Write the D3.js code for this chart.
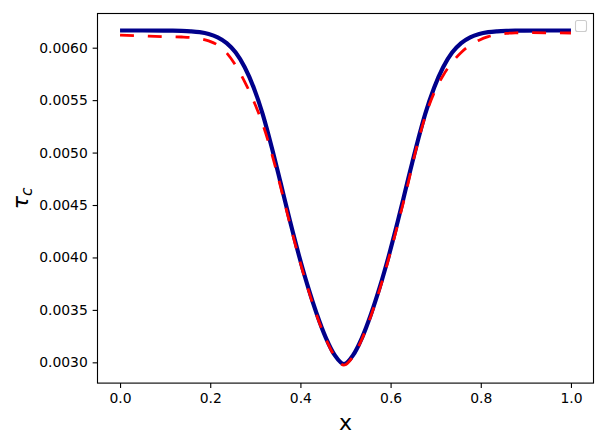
<!DOCTYPE html>
<html>
<head>
<meta charset="utf-8">
<script src="https://cdn.jsdelivr.net/npm/d3@7"></script>
<style>
  html, body { margin: 0; padding: 0; background: #fff; }
  svg { display: block; }
  text { font-family: "DejaVu Sans", sans-serif; fill: #000; }
</style>
</head>
<body>
<div id="chart"></div>
<script>
// ---- data ----
const blueX = [0.0, 0.05, 0.0965, 0.1165, 0.1365, 0.1565, 0.1765, 0.1965, 0.2165, 0.2365, 0.2565, 0.2765, 0.2965, 0.3165, 0.3365, 0.3565, 0.3765, 0.3965, 0.4165, 0.4365, 0.4565, 0.4765, 0.4965, 0.5165, 0.5365, 0.5565, 0.5765, 0.5965, 0.6165, 0.6365, 0.6565, 0.6765, 0.6965, 0.7165, 0.7365, 0.7565, 0.7765, 0.7965, 0.8165, 0.8365, 0.8565, 0.8765, 0.8965, 0.95, 1.0];
const blueY = [0.006164, 0.006164, 0.006163, 0.006162, 0.006160, 0.006156, 0.006148, 0.006131, 0.006099, 0.006044, 0.005954, 0.005814, 0.005619, 0.005364, 0.005049, 0.004704, 0.004354, 0.004024, 0.003724, 0.003459, 0.003234, 0.003066, 0.002984, 0.003066, 0.003234, 0.003459, 0.003724, 0.004024, 0.004354, 0.004704, 0.005049, 0.005364, 0.005619, 0.005814, 0.005954, 0.006044, 0.006099, 0.006131, 0.006148, 0.006156, 0.006160, 0.006162, 0.006163, 0.006164, 0.006164];

const redX = [0.0, 0.05, 0.0965, 0.1365, 0.1565, 0.1765, 0.1965, 0.2165, 0.2365, 0.2565, 0.2765, 0.2965, 0.3165, 0.3365, 0.3565, 0.3765, 0.3965, 0.4165, 0.4365, 0.4565, 0.4765, 0.4965, 0.5165, 0.5365, 0.5565, 0.5765, 0.5965, 0.6165, 0.6365, 0.6565, 0.6765, 0.6965, 0.7165, 0.7365, 0.7565, 0.7765, 0.7965, 0.8165, 0.8365, 0.8565, 0.8765, 0.8965, 0.95, 1.0];
const redY = [0.006120, 0.006112, 0.006105, 0.006102, 0.006098, 0.006087, 0.006065, 0.006025, 0.005950, 0.005830, 0.005675, 0.005490, 0.005270, 0.004990, 0.004665, 0.004325, 0.004000, 0.003705, 0.003445, 0.003222, 0.003055, 0.002974, 0.003055, 0.003222, 0.003445, 0.003705, 0.004000, 0.004325, 0.004665, 0.005030, 0.005340, 0.005570, 0.005735, 0.005860, 0.005955, 0.006025, 0.006072, 0.006105, 0.006125, 0.006137, 0.006142, 0.006143, 0.006142, 0.006140];

const xTicks = [0.0, 0.2, 0.4, 0.6, 0.8, 1.0];
const yTicks = [0.0030, 0.0035, 0.0040, 0.0045, 0.0050, 0.0055, 0.0060];
const xDomain = [-0.05, 1.05];
const yDomain = [0.002802, 0.006326];

// ---- layout ----
const W = 606, H = 445;
const L = 97.5, R = 593.5, T = 13.5, B = 383.1;

const svg = d3.select("#chart").append("svg").attr("width", W).attr("height", H);

const x = d3.scaleLinear().domain(xDomain).range([L, R]);
const y = d3.scaleLinear().domain(yDomain).range([B, T]);

svg.append("clipPath").attr("id", "clip").append("rect")
  .attr("x", L).attr("y", T).attr("width", R - L).attr("height", B - T);

const line = d3.line().x(d => x(d[0])).y(d => y(d[1])).curve(d3.curveMonotoneX);

const blue = blueX.map((v, i) => [v, blueY[i]]);
const red = redX.map((v, i) => [v, redY[i]]);

const plot = svg.append("g").attr("clip-path", "url(#clip)");
plot.append("path").datum(blue).attr("d", line)
  .attr("fill", "none").attr("stroke", "#00008b").attr("stroke-width", 4.17)
  .attr("stroke-linejoin", "round").attr("stroke-linecap", "butt");
plot.append("path").datum(red).attr("d", line)
  .attr("fill", "none").attr("stroke", "#ff0000").attr("stroke-width", 2.78)
  .attr("stroke-dasharray", "13.9,13.9").attr("stroke-linecap", "butt");

// axes
const xAxis = d3.axisBottom(x).tickValues(xTicks).tickFormat(d3.format(".1f"))
  .tickSizeInner(4.86).tickSizeOuter(0).tickPadding(4.86);
const yAxis = d3.axisLeft(y).tickValues(yTicks).tickFormat(d3.format(".4f"))
  .tickSizeInner(4.86).tickSizeOuter(0).tickPadding(4.86);

const gx = svg.append("g").attr("transform", `translate(0,${B})`).call(xAxis);
const gy = svg.append("g").attr("transform", `translate(${L},0)`).call(yAxis);
[gx, gy].forEach(g => {
  g.select(".domain").remove();
  g.selectAll(".tick line").attr("stroke", "#000").attr("stroke-width", 1.11);
  g.selectAll(".tick text").attr("font-size", "13.9px").attr("font-family", "DejaVu Sans").attr("fill", "#000");
});

// frame
svg.append("rect").attr("x", L).attr("y", T).attr("width", R - L).attr("height", B - T)
  .attr("fill", "none").attr("stroke", "#000").attr("stroke-width", 1.11);

// empty legend box
svg.append("rect").attr("x", 575.5).attr("y", 20.5).attr("width", 11).attr("height", 11)
  .attr("rx", 2).attr("fill", "#fff").attr("stroke", "#cccccc").attr("stroke-width", 1.1);

// axis labels
svg.append("text").attr("x", (L + R) / 2).attr("y", 430)
  .attr("text-anchor", "middle").attr("font-size", "22px").text("x");

const yl = svg.append("text")
  .attr("transform", `translate(28,${(T + B) / 2}) rotate(-90)`)
  .attr("text-anchor", "middle").attr("font-size", "22px");
yl.append("tspan").attr("font-style", "italic").text("τ");
yl.append("tspan").attr("font-style", "italic").attr("font-size", "15.4px").attr("dy", "4").text("c");
</script>
</body>
</html>
